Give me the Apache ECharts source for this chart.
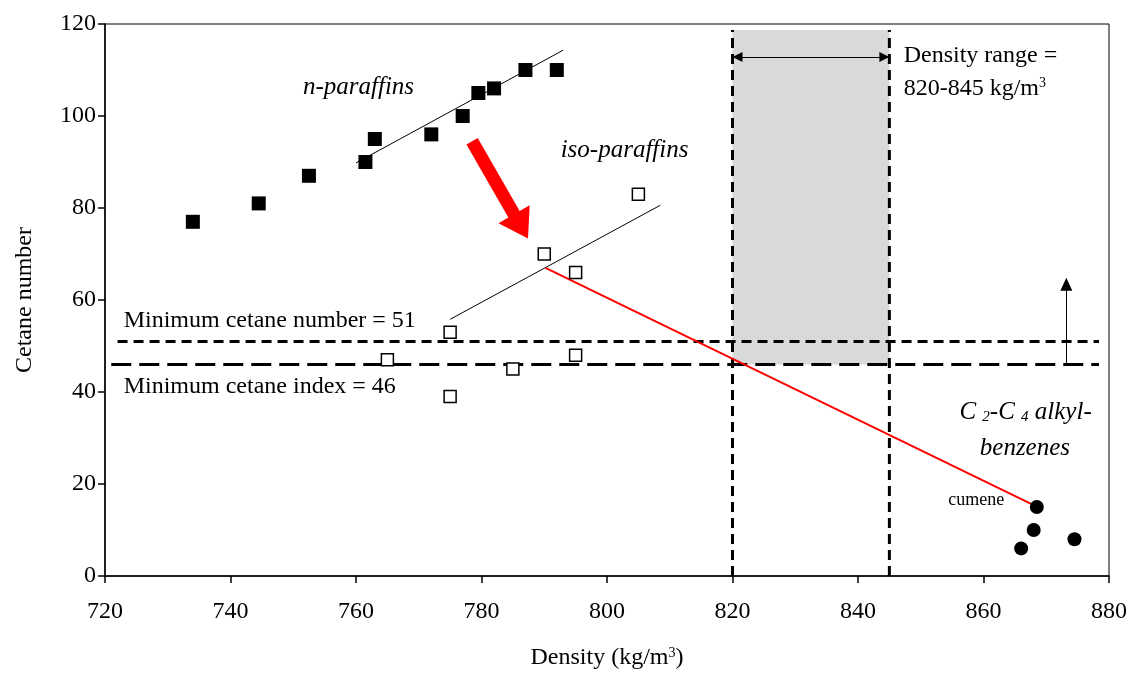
<!DOCTYPE html>
<html>
<head>
<meta charset="utf-8">
<title>Cetane number vs density</title>
<script src="https://cdn.jsdelivr.net/npm/echarts@6/dist/echarts.min.js"></script>
<style>
  html, body { margin: 0; padding: 0; background: #fff; }
  #main { width: 1131px; height: 675px; }
</style>
</head>
<body>
<div id="main"></div>
<script>
// data (density kg/m3, cetane number)
const nParaffins = [[734, 77], [744.5, 81], [752.5, 87], [761.5, 90], [763, 95], [772, 96],
  [777, 100], [779.5, 105], [782, 106], [787, 110], [792, 110]];
const isoParaffins = [[775, 53], [765, 47], [775, 39], [785, 45], [795, 48], [790, 70], [795, 66], [805, 83]];
const alkylBenzenes = [[868.5, 15], [868, 10], [866, 6], [874.5, 8]];
const nTrend = [[760, 89.8], [793, 114.3]];
const isoTrend = [[775, 55.8], [808.5, 80.6]];
const cumeneLine = [[790.2, 67], [868, 15.4]];
const densityRange = [820, 845];
const rangeTop = 118.7;
const minCetaneNumber = 51;
const minCetaneIndex = 46;
const xTicks = [720, 880, 20];
const yTicks = [0, 120, 20];

const FONT = '"Liberation Serif", "DejaVu Serif", serif';

let myChart = echarts.init(document.getElementById('main'));

// helper for plain line segments
function seg(data, color, width, type) {
  return {
    type: 'line', data: data, symbol: 'none', silent: true,
    lineStyle: { color: color, width: width, type: type || 'solid' }, z: 3
  };
}
function arrow(from, to, width, color, symbols, size) {
  return {
    type: 'line', data: [], silent: true, z: 4,
    markLine: {
      silent: true, animation: false,
      symbol: symbols, symbolSize: size,
      label: { show: false },
      lineStyle: { color: color, width: width, type: 'solid', opacity: 1 },
      emphasis: { disabled: true },
      data: [[{ coord: from }, { coord: to }]]
    }
  };
}
function note(x, y, text, opts) {
  return {
    value: [x, y],
    label: Object.assign({ show: true, formatter: text, position: 'inside', color: '#000',
      fontFamily: FONT, fontSize: 24 }, opts || {})
  };
}

myChart.setOption({
  animation: false,
  backgroundColor: '#fff',
  grid: { left: 105, right: 22, top: 24, bottom: 98, show: true, borderColor: '#000', borderWidth: 1 },
  xAxis: {
    type: 'value', min: xTicks[0], max: xTicks[1], interval: xTicks[2],
    name: 'Density (kg/m{sup|3})', nameLocation: 'middle', nameGap: 70,
    nameTextStyle: { fontFamily: FONT, fontSize: 24, color: '#000',
      rich: { sup: { fontFamily: FONT, fontSize: 14, verticalAlign: 'top', color: '#000' } } },
    axisLine: { lineStyle: { color: '#000', width: 1.5 } },
    axisTick: { show: true, length: 7, lineStyle: { color: '#000', width: 1.5 } },
    axisLabel: { margin: 24, fontFamily: FONT, fontSize: 24, color: '#000' },
    splitLine: { show: false }
  },
  yAxis: {
    type: 'value', min: yTicks[0], max: yTicks[1], interval: yTicks[2],
    name: 'Cetane number', nameLocation: 'middle', nameGap: 68,
    nameTextStyle: { fontFamily: FONT, fontSize: 24, color: '#000' },
    axisLine: { show: true, lineStyle: { color: '#000', width: 1.5 } },
    axisTick: { show: true, length: 7, lineStyle: { color: '#000', width: 1.5 } },
    axisLabel: { margin: 9, fontFamily: FONT, fontSize: 24, color: '#000' },
    splitLine: { show: false }
  },
  series: [
    // shaded density window
    {
      type: 'line', data: [], silent: true, z: 1,
      markArea: {
        silent: true,
        itemStyle: { color: '#d9d9d9', opacity: 1 },
        data: [[{ coord: [densityRange[0], minCetaneIndex] }, { coord: [densityRange[1], rangeTop] }]]
      }
    },
    seg([[densityRange[0], 0], [densityRange[0], rangeTop]], '#000', 3, [10, 6]),
    seg([[densityRange[1], 0], [densityRange[1], rangeTop]], '#000', 3, [10, 6]),
    seg([[722, minCetaneNumber], [878.4, minCetaneNumber]], '#000', 3, [10, 6]),
    seg([[721, minCetaneIndex], [878.4, minCetaneIndex]], '#000', 3, [20, 8]),
    seg(nTrend, '#000', 1),
    seg(isoTrend, '#000', 1),
    seg(cumeneLine, '#ff0000', 2),
    arrow([778.5, 94.5], [786.3, 76], 13, '#ff0000', ['none', 'triangle'], [36, 28]),
    arrow([820.8, 112.8], [844.2, 112.8], 1, '#000', ['triangle', 'triangle'], [10, 10]),
    arrow([873.2, minCetaneIndex], [873.2, 63.4], 1, '#000', ['none', 'triangle'], [12, 13]),
    {
      name: 'n-paraffins', type: 'scatter', data: nParaffins, symbol: 'rect', symbolSize: 14,
      itemStyle: { color: '#000', opacity: 1 }, z: 5
    },
    {
      name: 'iso-paraffins', type: 'scatter', data: isoParaffins, symbol: 'rect', symbolSize: 12,
      itemStyle: { color: '#fff', borderColor: '#000', borderWidth: 1.5, opacity: 1 }, z: 5
    },
    {
      name: 'alkylbenzenes', type: 'scatter', data: alkylBenzenes, symbol: 'circle', symbolSize: 14,
      itemStyle: { color: '#000', opacity: 1 }, z: 5
    },
    // text notes
    {
      type: 'scatter', symbolSize: 1, silent: true, z: 6,
      itemStyle: { color: 'rgba(0,0,0,0)', opacity: 1 },
      data: [
        note(760.4, 106.3, 'n-paraffins', { fontStyle: 'italic', fontSize: 25 }),
        note(802.8, 92.5, 'iso-paraffins', { fontStyle: 'italic', fontSize: 25 }),
        note(847.2, 113, 'Density range =', { position: 'right', distance: 0 }),
        note(847.2, 106.0, '820-845 kg/m{sup|3}', { position: 'right', distance: 0,
          rich: { sup: { fontFamily: FONT, fontSize: 14, verticalAlign: 'top', color: '#000' } } }),
        note(722.9, 55.5, 'Minimum cetane number = 51', { position: 'right', distance: 0 }),
        note(722.9, 41.1, 'Minimum cetane index = 46', { position: 'right', distance: 0 }),
        note(866.7, 35.6, '{c|C }{s|2}{c|-C }{s|4}{c| alkyl-}', {
          rich: {
            c: { fontFamily: FONT, fontStyle: 'italic', fontSize: 25, color: '#000' },
            s: { fontFamily: FONT, fontStyle: 'italic', fontSize: 15, color: '#000', verticalAlign: 'bottom' }
          }
        }),
        note(866.6, 27.8, 'benzenes', { fontStyle: 'italic', fontSize: 25 }),
        note(863.4, 16.4, 'cumene', { position: 'left', distance: 0, fontSize: 18 })
      ]
    }
  ]
});
</script>
</body>
</html>
